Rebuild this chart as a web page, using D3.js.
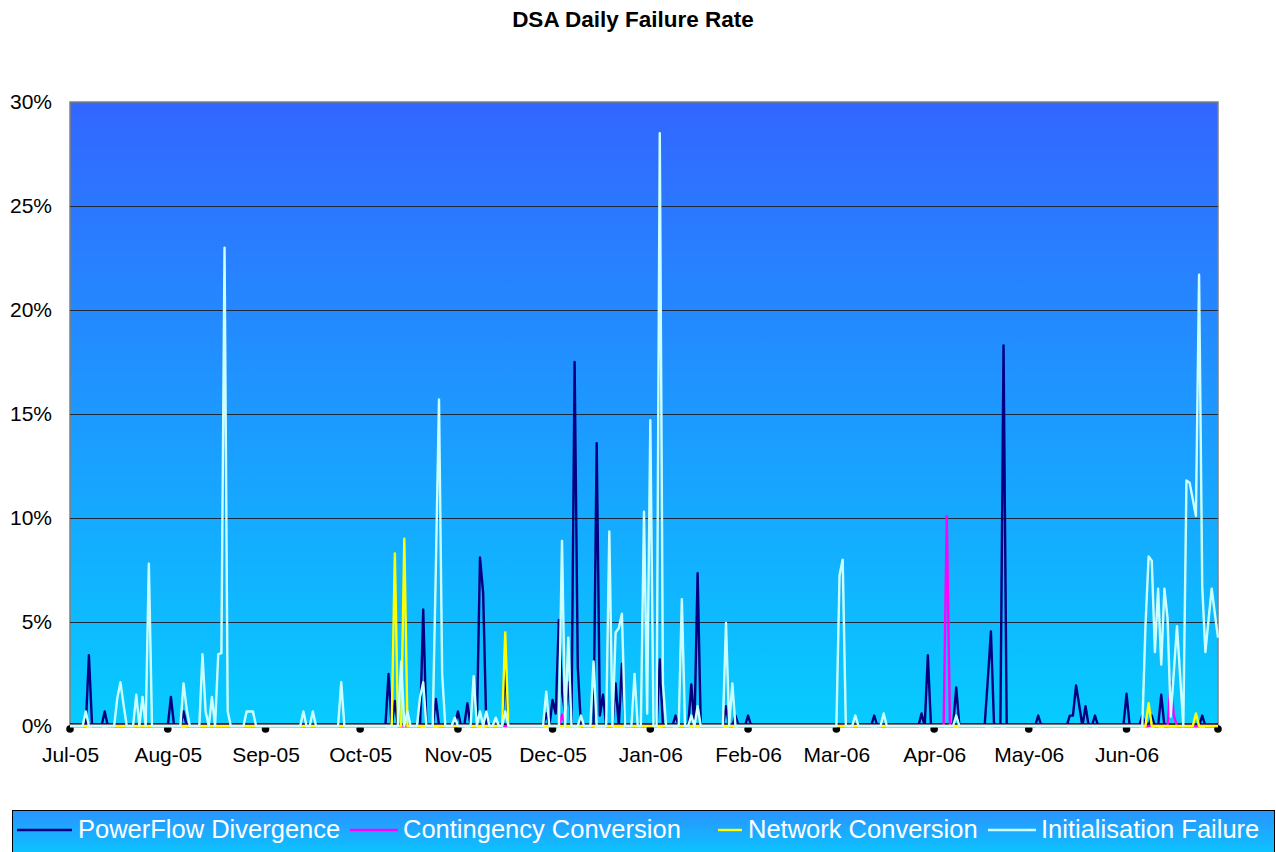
<!DOCTYPE html>
<html lang="en">
<head>
<meta charset="UTF-8">
<title>DSA Daily Failure Rate</title>
<script src="https://cdn.jsdelivr.net/npm/d3@7"></script>
<style>
    body {
        margin: 0;
        background: #fff;
    }

    svg {
        display: block;
        font-family: "Liberation Sans", Arial, sans-serif;
    }

    .axis text {
        font-size: 21px;
        fill: #000;
    }

    .axis path,
    .axis line {
        display: none;
    }

    .grid line {
        stroke: #1c2a3a;
        stroke-width: 1;
    }

    .series {
        fill: none;
        stroke-width: 2.4;
        stroke-linejoin: round;
    }

    .legend text {
        font-size: 25.5px;
        fill: #fff;
    }
</style>
</head>
<body>
<svg id="chart" width="1276" height="852"></svg>
<script>

// day 0 = 1 Jul 2005, day 364 = 30 Jun 2006; every day not listed is 0%
const firstDay = new Date(2005, 6, 1);
const numDays = 365;

const seriesNames = ["PowerFlow Divergence", "Contingency Conversion", "Network Conversion", "Initialisation Failure"];
const seriesColors = ["#000080", "#ff00ff", "#ffff00", "#ccffff"];

// [day, failure rate %]
const powerFlow = [
    [6, 3.4], [11, 0.7], [32, 1.4], [36, 0.7], [101, 2.5], [103, 1.2], [112, 5.6], [116, 1.3],
    [123, 0.7], [126, 1.1], [130, 8.1], [131, 6.4], [138, 2.8], [151, 0.6], [153, 1.25], [154, 0.6],
    [155, 5.1], [156, 1.65], [157, 0.6], [158, 2.1], [160, 17.5], [161, 2.85], [167, 13.6], [168, 0.5],
    [169, 1.5], [173, 2.05], [175, 3.0], [187, 3.2], [192, 0.5], [197, 2.0], [199, 7.35], [208, 0.95],
    [211, 0.5], [215, 0.5], [255, 0.5], [270, 0.6], [272, 3.4], [281, 1.85], [291, 2.2], [292, 4.55],
    [296, 18.3], [307, 0.5], [317, 0.5], [318, 0.5], [319, 1.95], [320, 1.0], [322, 0.95], [325, 0.5],
    [335, 1.55], [340, 0.5], [343, 0.5], [346, 1.5], [359, 0.5]
];

const contingency = [
    [156, 0.55], [278, 10.1], [349, 2.1], [350, 0.5]
];

const network = [
    [103, 8.3], [106, 9.0], [138, 4.5], [342, 1.1], [357, 0.6]
];

const initialisation = [
    [5, 0.7], [15, 1.35], [16, 2.1], [17, 1.0], [21, 1.5], [23, 1.4], [25, 7.8], [36, 2.05],
    [37, 0.8], [42, 3.45], [43, 0.7], [45, 1.4], [47, 3.45], [48, 3.5], [49, 23.0], [50, 0.7],
    [56, 0.7], [57, 0.7], [58, 0.7], [74, 0.7], [77, 0.7], [86, 2.1], [105, 3.1], [107, 0.7],
    [111, 1.4], [112, 2.1], [116, 7.6], [117, 15.7], [118, 2.5], [122, 0.4], [128, 2.4], [130, 0.7],
    [132, 0.7], [135, 0.4], [138, 0.7], [151, 1.65], [156, 8.9], [158, 4.25], [162, 0.5], [166, 3.1],
    [171, 9.35], [173, 4.5], [174, 4.7], [175, 5.4], [179, 2.5], [182, 10.3], [183, 0.6], [184, 14.7],
    [187, 28.5], [188, 2.05], [194, 6.1], [197, 0.5], [199, 0.95], [208, 4.95], [210, 2.05], [244, 7.25],
    [245, 8.0], [249, 0.5], [258, 0.6], [281, 0.5], [341, 4.8], [342, 8.15], [343, 7.95], [344, 3.55],
    [345, 6.6], [346, 2.95], [347, 6.6], [348, 5.2], [349, 0.45], [350, 2.6], [351, 4.8], [352, 2.4],
    [354, 11.8], [355, 11.7], [356, 10.9], [357, 10.1], [358, 21.7], [359, 6.7], [360, 3.55], [361, 5.1],
    [362, 6.6], [363, 5.4], [364, 4.25]
];

const yTicks = [0, 5, 10, 15, 20, 25, 30];

const margin = { top: 102, right: 58, bottom: 126, left: 70 };
const width = 1276, height = 852;

const svg = d3.select("#chart");

const x = d3.scaleTime()
    .domain([firstDay, d3.timeDay.offset(firstDay, numDays - 1)])
    .range([margin.left, width - margin.right]);

const y = d3.scaleLinear()
    .domain([0, 30])
    .range([height - margin.bottom, margin.top]);

const defs = svg.append("defs");
const grad = defs.append("linearGradient")
    .attr("id", "plotFill")
    .attr("x1", 0).attr("y1", 0).attr("x2", 0).attr("y2", 1);
grad.append("stop").attr("offset", "0%").attr("stop-color", "#3366ff");
grad.append("stop").attr("offset", "100%").attr("stop-color", "#06ccff");

const legendGrad = defs.append("linearGradient")
    .attr("id", "legendFill")
    .attr("x1", 0).attr("y1", 0).attr("x2", 0).attr("y2", 1);
legendGrad.append("stop").attr("offset", "0%").attr("stop-color", "#2a94ff");
legendGrad.append("stop").attr("offset", "100%").attr("stop-color", "#0cc4ff");

// plot area
svg.append("rect")
    .attr("x", x.range()[0])
    .attr("y", y(30))
    .attr("width", x.range()[1] - x.range()[0])
    .attr("height", y(0) - y(30))
    .attr("fill", "url(#plotFill)")
    .attr("stroke", "#808080")
    .attr("stroke-width", 1.5);

svg.append("g")
    .attr("class", "grid")
    .selectAll("line")
    .data(yTicks.filter(t => t > 0 && t < 30))
    .join("line")
    .attr("x1", x.range()[0])
    .attr("x2", x.range()[1])
    .attr("y1", d => Math.round(y(d)) + 0.5)
    .attr("y2", d => Math.round(y(d)) + 0.5);

// title
svg.append("text")
    .attr("x", 633)
    .attr("y", 27)
    .attr("text-anchor", "middle")
    .style("font-size", "22.5px")
    .style("font-weight", "bold")
    .text("DSA Daily Failure Rate");

// axes
const months = d3.timeMonth.range(firstDay, new Date(2006, 6, 1));

svg.append("g")
    .attr("class", "axis")
    .attr("transform", `translate(0,${y(0)})`)
    .call(d3.axisBottom(x)
        .tickValues(months)
        .tickFormat(d3.timeFormat("%b-%y"))
        .tickSize(0)
        .tickPadding(21));

svg.append("g")
    .attr("class", "axis")
    .attr("transform", `translate(${x.range()[0]},0)`)
    .call(d3.axisLeft(y)
        .tickValues(yTicks)
        .tickFormat(d => d + "%")
        .tickSize(0)
        .tickPadding(18));

// tick dots along the date axis
svg.append("g")
    .selectAll("circle")
    .data(months.concat([x.domain()[1]]))
    .join("circle")
    .attr("cx", d => x(d))
    .attr("cy", y(0) + 3)
    .attr("r", 3.8)
    .attr("fill", "#000");

svg.append("line")
    .attr("x1", x.range()[0])
    .attr("x2", x.range()[1])
    .attr("y1", y(0) - 1.5)
    .attr("y2", y(0) - 1.5)
    .attr("stroke", "#000")
    .attr("stroke-width", 2.5);

// series
function daily(points) {
    const lookup = new Map(points);
    return d3.range(numDays).map(i => ({
        date: d3.timeDay.offset(firstDay, i),
        value: lookup.get(i) || 0
    }));
}

const allSeries = [powerFlow, contingency, network, initialisation].map(daily);

const line = d3.line()
    .x(d => x(d.date))
    .y(d => y(d.value));

svg.append("g")
    .selectAll("path")
    .data(allSeries)
    .join("path")
    .attr("class", "series")
    .attr("stroke", (d, i) => seriesColors[i])
    .attr("d", line);

// legend
const legend = svg.append("g").attr("class", "legend");

legend.append("rect")
    .attr("x", 12.5)
    .attr("y", 810.5)
    .attr("width", 1262)
    .attr("height", 44)
    .attr("fill", "url(#legendFill)")
    .attr("stroke", "#000")
    .attr("stroke-width", 1);

const legendPos = [
    { x1: 17, x2: 72, tx: 78 },
    { x1: 350, x2: 398, tx: 403 },
    { x1: 718, x2: 742, tx: 748 },
    { x1: 988, x2: 1036, tx: 1041 }
];

const item = legend.selectAll(".item")
    .data(seriesNames)
    .join("g")
    .attr("class", "item");

item.append("line")
    .attr("x1", (d, i) => legendPos[i].x1)
    .attr("x2", (d, i) => legendPos[i].x2)
    .attr("y1", 830)
    .attr("y2", 830)
    .attr("stroke", (d, i) => seriesColors[i])
    .attr("stroke-width", 2.4);

item.append("text")
    .attr("x", (d, i) => legendPos[i].tx)
    .attr("y", 838)
    .text(d => d);

</script>
</body>
</html>
